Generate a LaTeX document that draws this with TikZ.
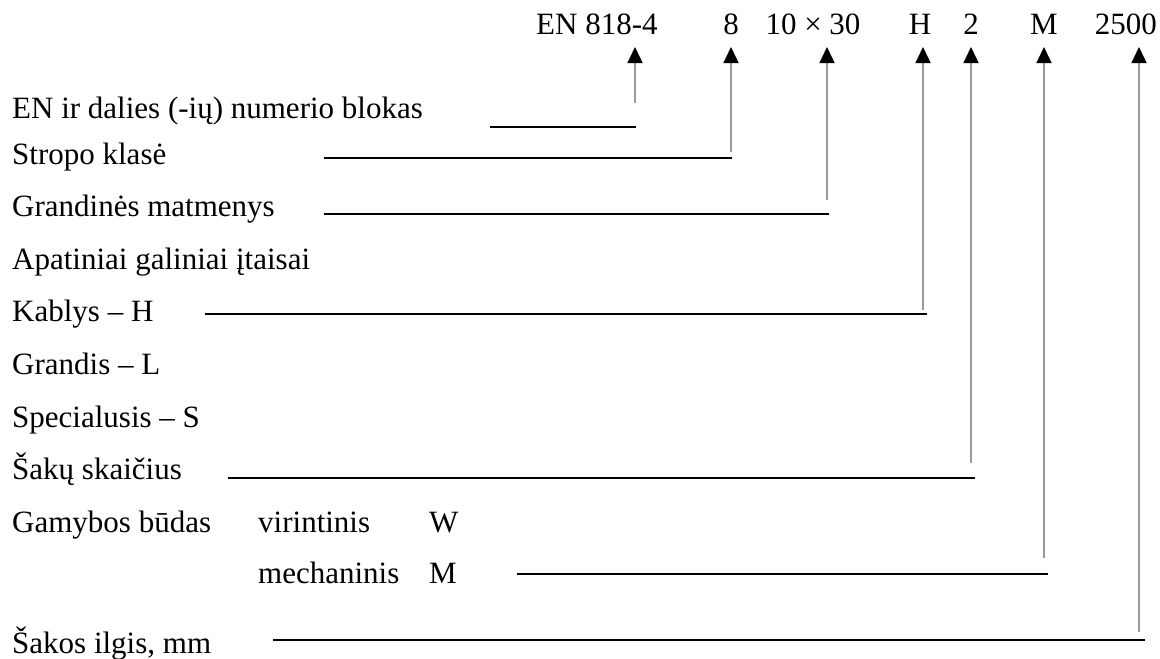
\documentclass[tikz,border=0pt]{standalone}
\usepackage{fontspec}
\setmainfont{Liberation Serif}
\usetikzlibrary{arrows.meta}
\tikzset{
  lbl/.style={anchor=base west, inner sep=0pt, font=\fontsize{31}{34}\selectfont},
  code/.style={anchor=base, inner sep=0pt, font=\fontsize{31}{34}\selectfont},
  hline/.style={line width=2.2pt, black},
  pointer/.style={line width=1.3pt, black!40,
    -{Triangle[width=15pt,length=16pt,color=black]}},
}
\begin{document}
\begin{tikzpicture}[x=1pt,y=-1pt]
\useasboundingbox (0,0) rectangle (1160,659);
% designation code
\node[code,anchor=base west] (en) at (536,34) {EN 818-4};
\node[code] (cls)  at (731,34) {8};
\node[code] (dim)  at (813,34) {10 × 30};
\node[code] (hk)   at (920,34) {H};
\node[code] (legs) at (971,34) {2};
\node[code] (mfg)  at (1044,34) {M};
\node[code,anchor=base east] (len) at (1157,34) {2500};
% explanations
\node[lbl] (l1)  at (12,118) {EN ir dalies (-ių) numerio blokas};
\node[lbl] (l2)  at (12,164) {Stropo klasė};
\node[lbl] (l3)  at (12,216) {Grandinės matmenys};
\node[lbl] (l4)  at (12,269) {Apatiniai galiniai įtaisai};
\node[lbl] (l5)  at (12,321) {Kablys – H};
\node[lbl] (l6)  at (12,374) {Grandis – L};
\node[lbl] (l7)  at (12,427) {Specialusis – S};
\node[lbl] (l8)  at (12,479) {Šakų skaičius};
\node[lbl] (l9)  at (12,532) {Gamybos būdas};
\node[lbl] (l9a) at (258,532) {virintinis};
\node[lbl] (l9b) at (429,532) {W};
\node[lbl] (l10a) at (258,583) {mechaninis};
\node[lbl] (l10b) at (429,583) {M};
\node[lbl] (l11) at (12,653) {Šakos ilgis, mm};
% horizontal leader lines
\coordinate (a1) at (490,127);  \coordinate (b1) at (636,127);
\coordinate (a2) at (324,158);  \coordinate (b2) at (732,158);
\coordinate (a3) at (324,214);  \coordinate (b3) at (829,214);
\coordinate (a5) at (205,314);  \coordinate (b5) at (927,314);
\coordinate (a8) at (228,478);  \coordinate (b8) at (975,478);
\coordinate (a10) at (517,574); \coordinate (b10) at (1048,574);
\coordinate (a11) at (273,640); \coordinate (b11) at (1145,640);
\foreach \i in {1,2,3,5,8,10,11} \draw[hline] (a\i) -- (b\i);
% vertical pointers
\coordinate (p1) at (635,103);  \coordinate (t1) at (635,47);
\coordinate (p2) at (731,152);  \coordinate (t2) at (731,47);
\coordinate (p3) at (827,200);  \coordinate (t3) at (827,47);
\coordinate (p5) at (923,310);  \coordinate (t5) at (923,47);
\coordinate (p8) at (971,463);  \coordinate (t8) at (971,47);
\coordinate (p10) at (1044,558);\coordinate (t10) at (1044,47);
\coordinate (p11) at (1139,632);\coordinate (t11) at (1139,47);
\foreach \i in {1,2,3,5,8,10,11} \draw[pointer] (p\i) -- (t\i);
\end{tikzpicture}
\end{document}
